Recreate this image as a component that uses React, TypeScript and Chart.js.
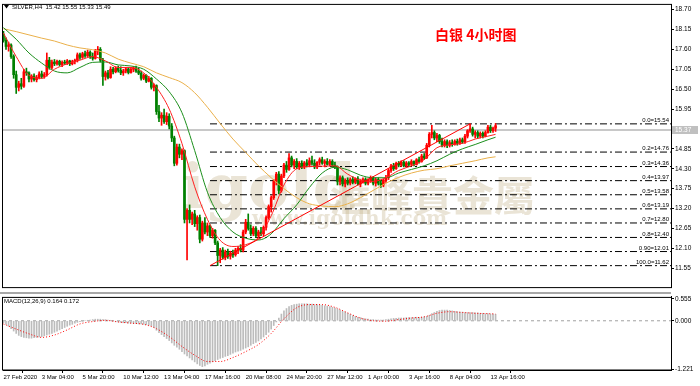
import React, { useEffect, useRef } from "react";
import { Chart, registerables } from "chart.js";
Chart.register(...registerables);

// ---------- DATA ----------
const OPEN = [
  18.02, 17.85, 17.68, 17.72, 17.40, 16.90, 16.55, 16.65, 16.58, 16.98,
  16.95, 16.78, 16.86, 16.76, 16.82, 16.92, 16.85, 16.90, 17.30, 17.10,
  17.25, 17.20, 17.27, 17.18, 17.24, 17.22, 17.28, 17.20, 17.26, 17.30,
  17.45, 17.38, 17.48, 17.42, 17.52, 17.40, 17.35, 17.55, 17.60, 17.30,
  16.85, 16.95, 16.82, 17.05, 16.98, 17.08, 17.02, 16.95, 17.00, 17.06,
  16.96, 17.05, 17.08, 17.00, 16.94, 16.80, 16.88, 16.72, 16.80, 16.55,
  16.60, 15.88, 15.70, 15.78, 15.60, 15.75, 15.48, 15.15, 14.45, 14.90,
  14.70, 14.80, 12.90, 13.15, 12.90, 13.05, 12.78, 12.95, 12.35, 12.80,
  12.55, 12.72, 12.45, 12.60, 12.25, 11.90, 12.05, 11.85, 12.00, 11.88,
  11.97, 11.92, 12.05, 12.10, 12.05, 12.55, 12.82, 12.65, 12.50, 12.65,
  12.45, 12.55, 12.50, 12.68, 12.95, 13.25, 13.50, 13.95, 14.15, 13.70,
  14.10, 14.40, 14.28, 14.60, 14.40, 14.50, 14.35, 14.45, 14.35, 14.46,
  14.40, 14.52, 14.45, 14.35, 14.48, 14.55, 14.45, 14.50, 14.42, 14.50,
  14.40, 14.35, 13.95, 14.05, 13.88, 13.98, 13.90, 14.00, 13.92, 14.02,
  13.88, 13.95, 14.00, 13.90, 13.98, 14.05, 13.90, 14.00, 13.90, 13.85,
  13.98, 14.05, 14.25, 14.38, 14.30, 14.45, 14.40, 14.48, 14.38, 14.46,
  14.42, 14.50, 14.42, 14.55, 14.50, 14.65, 14.60, 14.95, 15.25, 15.30,
  15.15, 15.22, 15.05, 14.95, 15.05, 14.95, 15.02, 14.98, 15.06, 15.00,
  15.10, 15.04, 15.20, 15.35, 15.40, 15.25, 15.30, 15.20, 15.28, 15.20,
  15.30, 15.45, 15.35, 15.42,
];
const HIGH = [
  18.10, 17.92, 17.80, 17.75, 17.45, 17.00, 16.72, 16.80, 17.05, 17.08,
  16.98, 16.90, 16.92, 16.88, 16.98, 17.00, 16.96, 17.50, 17.38, 17.30,
  17.32, 17.30, 17.30, 17.28, 17.30, 17.32, 17.30, 17.30, 17.33, 17.50,
  17.50, 17.52, 17.55, 17.58, 17.56, 17.50, 17.60, 17.68, 17.65, 17.35,
  17.00, 17.02, 17.12, 17.10, 17.12, 17.14, 17.12, 17.05, 17.10, 17.10,
  17.10, 17.12, 17.14, 17.08, 17.00, 16.92, 16.90, 16.85, 16.82, 16.65,
  16.62, 16.05, 15.85, 15.95, 15.85, 15.82, 15.55, 15.20, 14.98, 14.98,
  14.85, 14.82, 13.20, 13.30, 13.10, 13.15, 13.00, 13.02, 12.85, 12.95,
  12.80, 12.75, 12.65, 12.62, 12.30, 12.10, 12.12, 12.05, 12.08, 12.02,
  12.05, 12.10, 12.15, 12.20, 12.60, 12.90, 13.05, 12.75, 12.70, 12.70,
  12.60, 12.68, 12.72, 13.00, 13.30, 13.55, 14.00, 14.20, 14.22, 14.15,
  14.45, 14.50, 14.72, 14.65, 14.55, 14.58, 14.50, 14.52, 14.50, 14.55,
  14.60, 14.65, 14.55, 14.50, 14.60, 14.62, 14.55, 14.58, 14.55, 14.55,
  14.48, 14.38, 14.10, 14.10, 14.02, 14.05, 14.05, 14.08, 14.05, 14.08,
  14.00, 14.05, 14.05, 14.02, 14.10, 14.08, 14.05, 14.05, 13.98, 14.02,
  14.12, 14.30, 14.42, 14.45, 14.48, 14.50, 14.52, 14.52, 14.50, 14.50,
  14.55, 14.52, 14.58, 14.62, 14.70, 14.72, 15.00, 15.30, 15.50, 15.35,
  15.28, 15.25, 15.15, 15.10, 15.10, 15.08, 15.10, 15.10, 15.12, 15.15,
  15.15, 15.25, 15.38, 15.54, 15.45, 15.35, 15.35, 15.32, 15.32, 15.35,
  15.50, 15.50, 15.45, 15.55,
];
const LOW = [
  17.80, 17.60, 17.55, 17.35, 16.80, 16.38, 16.45, 16.50, 16.55, 16.88,
  16.70, 16.70, 16.72, 16.70, 16.78, 16.80, 16.80, 16.86, 17.05, 17.05,
  17.15, 17.16, 17.14, 17.12, 17.18, 17.18, 17.15, 17.17, 17.20, 17.25,
  17.32, 17.35, 17.38, 17.40, 17.35, 17.30, 17.33, 17.45, 17.25, 16.60,
  16.75, 16.78, 16.80, 16.92, 16.95, 16.97, 16.90, 16.88, 16.95, 16.92,
  16.94, 16.98, 16.96, 16.90, 16.75, 16.76, 16.68, 16.70, 16.50, 16.45,
  15.80, 15.60, 15.50, 15.55, 15.52, 15.40, 15.05, 14.38, 14.40, 14.60,
  14.55, 12.80, 11.78, 12.80, 12.75, 12.70, 12.60, 12.25, 12.30, 12.50,
  12.45, 12.40, 12.38, 12.20, 11.62, 11.70, 11.80, 11.78, 11.82, 11.80,
  11.85, 11.88, 11.95, 12.00, 12.00, 12.50, 12.60, 12.45, 12.45, 12.40,
  12.38, 12.45, 12.45, 12.60, 12.90, 13.10, 13.45, 13.85, 13.60, 13.65,
  14.05, 14.20, 14.25, 14.35, 14.30, 14.30, 14.28, 14.30, 14.30, 14.35,
  14.35, 14.40, 14.30, 14.30, 14.40, 14.42, 14.35, 14.40, 14.38, 14.35,
  14.30, 13.85, 13.85, 13.82, 13.80, 13.85, 13.85, 13.88, 13.88, 13.85,
  13.80, 13.90, 13.85, 13.85, 13.92, 13.85, 13.82, 13.85, 13.78, 13.80,
  13.92, 14.00, 14.20, 14.25, 14.28, 14.35, 14.36, 14.35, 14.35, 14.36,
  14.38, 14.38, 14.40, 14.45, 14.48, 14.55, 14.58, 14.90, 15.15, 15.10,
  15.05, 15.00, 14.90, 14.90, 14.88, 14.90, 14.92, 14.95, 14.95, 14.97,
  15.00, 15.00, 15.15, 15.30, 15.20, 15.15, 15.15, 15.15, 15.15, 15.18,
  15.28, 15.30, 15.30, 15.33,
];
const CLOSE = [
  17.85, 17.68, 17.72, 17.40, 16.90, 16.55, 16.65, 16.58, 16.98, 16.95,
  16.78, 16.86, 16.76, 16.82, 16.92, 16.85, 16.90, 17.30, 17.10, 17.25,
  17.20, 17.27, 17.18, 17.24, 17.22, 17.28, 17.20, 17.26, 17.30, 17.45,
  17.38, 17.48, 17.42, 17.52, 17.40, 17.35, 17.55, 17.60, 17.30, 16.85,
  16.95, 16.82, 17.05, 16.98, 17.08, 17.02, 16.95, 17.00, 17.06, 16.96,
  17.05, 17.08, 17.00, 16.94, 16.80, 16.88, 16.72, 16.80, 16.55, 16.60,
  15.88, 15.70, 15.78, 15.60, 15.75, 15.48, 15.15, 14.45, 14.90, 14.70,
  14.80, 12.90, 13.15, 12.90, 13.05, 12.78, 12.95, 12.35, 12.80, 12.55,
  12.72, 12.45, 12.60, 12.25, 11.90, 12.05, 11.85, 12.00, 11.88, 11.97,
  11.92, 12.05, 12.10, 12.05, 12.55, 12.82, 12.65, 12.50, 12.65, 12.45,
  12.55, 12.50, 12.68, 12.95, 13.25, 13.50, 13.95, 14.15, 13.70, 14.10,
  14.40, 14.28, 14.60, 14.40, 14.50, 14.35, 14.45, 14.35, 14.46, 14.40,
  14.52, 14.45, 14.35, 14.48, 14.55, 14.45, 14.50, 14.42, 14.50, 14.40,
  14.35, 13.95, 14.05, 13.88, 13.98, 13.90, 14.00, 13.92, 14.02, 13.88,
  13.95, 14.00, 13.90, 13.98, 14.05, 13.90, 14.00, 13.90, 13.85, 13.98,
  14.05, 14.25, 14.38, 14.30, 14.45, 14.40, 14.48, 14.38, 14.46, 14.42,
  14.50, 14.42, 14.55, 14.50, 14.65, 14.60, 14.95, 15.25, 15.30, 15.15,
  15.22, 15.05, 14.95, 15.05, 14.95, 15.02, 14.98, 15.06, 15.00, 15.10,
  15.04, 15.20, 15.35, 15.40, 15.25, 15.30, 15.20, 15.28, 15.20, 15.30,
  15.45, 15.35, 15.42, 15.49,
];

// moving averages, read at these bar indices
const MA_BARS = [0, 5, 10, 15, 20, 25, 30, 35, 40, 45, 50, 55, 60, 65, 70, 75, 80, 85, 90, 95,
  100, 105, 110, 115, 120, 125, 130, 135, 140, 145, 150, 155, 160, 165, 170, 175, 180, 185, 190, 193];
const MA_RED = [18.05, 17.40, 16.88, 16.80, 17.05, 17.20, 17.30, 17.40, 17.28, 17.10, 17.10, 16.95, 16.55, 15.95,
  15.00, 13.80, 12.90, 12.32, 12.15, 12.20, 12.40, 13.00, 13.85, 14.30, 14.36, 14.37, 14.38, 14.15, 13.98, 13.95,
  14.05, 14.25, 14.38, 14.55, 14.88, 14.96, 15.00, 15.12, 15.20, 15.25];
const MA_GREEN = [18.20, 17.88, 17.50, 17.22, 17.00, 16.95, 17.10, 17.24, 17.25, 17.17, 17.14, 17.05, 16.78, 16.43,
  15.85, 14.80, 13.65, 12.95, 12.55, 12.38, 12.33, 12.50, 12.92, 13.30, 13.78, 14.18, 14.34, 14.27, 14.12, 14.05,
  14.05, 14.18, 14.28, 14.38, 14.52, 14.70, 14.85, 14.97, 15.10, 15.17];
const MA_ORANGE = [18.17, 18.09, 18.00, 17.91, 17.83, 17.72, 17.64, 17.59, 17.50, 17.33, 17.22, 17.12, 16.95, 16.82,
  16.68, 16.40, 16.00, 15.55, 15.12, 14.75, 14.38, 14.05, 13.75, 13.50, 13.33, 13.27, 13.25, 13.33, 13.50, 13.70,
  13.90, 14.06, 14.18, 14.26, 14.30, 14.38, 14.45, 14.52, 14.60, 14.63];
const MACD_SIGNAL = [-0.08, -0.21, -0.33, -0.42, -0.36, -0.23, -0.08, -0.02, 0.01, -0.03, -0.06, -0.09, -0.20, -0.40,
  -0.65, -0.87, -1.03, -1.03, -0.93, -0.78, -0.60, -0.32, 0.05, 0.33, 0.41, 0.41, 0.34, 0.20, 0.07, 0.00,
  -0.01, 0.03, 0.07, 0.10, 0.19, 0.23, 0.21, 0.19, 0.18, 0.172];

const MACD_HIST = [
  -0.05, -0.09, -0.14, -0.20, -0.26, -0.32, -0.37, -0.40, -0.42, -0.43,
  -0.44, -0.44, -0.43, -0.42, -0.41, -0.40, -0.38, -0.36, -0.34, -0.32,
  -0.29, -0.26, -0.23, -0.20, -0.17, -0.14, -0.11, -0.09, -0.06, -0.04,
  -0.02, -0.01, 0.00, 0.01, 0.02, 0.03, 0.04, 0.04, 0.04, 0.03,
  0.03, 0.02, 0.01, 0.00, -0.02, -0.03, -0.04, -0.05, -0.05, -0.06,
  -0.06, -0.07, -0.07, -0.08, -0.08, -0.09, -0.10, -0.11, -0.13, -0.17,
  -0.24, -0.30, -0.35, -0.40, -0.45, -0.50, -0.56, -0.62, -0.67, -0.72,
  -0.78, -0.84, -0.89, -0.94, -0.99, -1.04, -1.09, -1.13, -1.16, -1.14,
  -1.10, -1.07, -1.04, -1.01, -0.98, -0.95, -0.93, -0.90, -0.88, -0.85,
  -0.82, -0.79, -0.77, -0.75, -0.72, -0.69, -0.66, -0.62, -0.58, -0.55,
  -0.51, -0.46, -0.41, -0.35, -0.29, -0.21, -0.12, -0.03, 0.07, 0.17,
  0.25, 0.31, 0.36, 0.39, 0.41, 0.42, 0.43, 0.43, 0.43, 0.43,
  0.42, 0.42, 0.41, 0.41, 0.40, 0.39, 0.38, 0.37, 0.36, 0.34,
  0.32, 0.30, 0.27, 0.24, 0.22, 0.19, 0.16, 0.13, 0.11, 0.09,
  0.08, 0.06, 0.05, 0.04, 0.03, 0.03, 0.02, 0.02, 0.02, 0.02,
  0.03, 0.04, 0.05, 0.06, 0.06, 0.07, 0.07, 0.07, 0.08, 0.08,
  0.08, 0.08, 0.09, 0.09, 0.09, 0.10, 0.11, 0.14, 0.18, 0.21,
  0.24, 0.26, 0.27, 0.27, 0.27, 0.26, 0.25, 0.24, 0.23, 0.22,
  0.22, 0.21, 0.21, 0.21, 0.21, 0.20, 0.20, 0.19, 0.19, 0.18,
  0.18, 0.17, 0.17, 0.164,
];

const FIB_LABELS = ["0.0", "0.2", "0.3", "0.4", "0.5", "0.6", "0.7", "0.8", "0.90", "100.0"];
const FIB_PRICES = [15.54, 14.76, 14.36, 13.97, 13.58, 13.19, 12.80, 12.40, 12.01, 11.62];
const FIB_LOW_BAR = 81;
const FIB_HIGH_BAR = 183;
const CURRENT_PRICE = 15.37;

const PRICE_TICKS = [18.70, 18.15, 17.60, 17.05, 16.50, 15.95, 14.85, 14.30, 13.75, 13.20, 12.65, 12.10, 11.55];
const MACD_TICKS = [0.555, 0.0, -1.221];
const X_TICK_BARS = [0, 15, 31, 47, 63, 79, 95, 111, 127, 143, 159, 175, 191];
const X_TICK_LABELS = ["27 Feb 2020", "3 Mar 04:00", "5 Mar 20:00", "10 Mar 12:00", "13 Mar 04:00", "17 Mar 16:00",
  "20 Mar 08:00", "24 Mar 20:00", "27 Mar 12:00", "1 Apr 00:00", "3 Apr 16:00", "8 Apr 04:00", "13 Apr 16:00"];

const SYMBOL = "SILVER,H4";
const TITLE = "白银 4小时图";

// ---------- styling / layout ----------
const X_MIN = -0.18;
const X_MAX = 261.8;
const Y_MIN = 11.027;
const Y_MAX = 18.829;
const M_MIN = -1.245;
const M_MAX = 0.604;
const UP = "#ff0000";
const DOWN = "#008000";
const FONT = "'Liberation Sans', Arial, sans-serif";

export default function App() {
  const mainRef = useRef<HTMLCanvasElement>(null);
  const macdRef = useRef<HTMLCanvasElement>(null);

  useEffect(() => {
    const idx = CLOSE.map((_, i) => i);
    const colors = idx.map((i) => (CLOSE[i] >= OPEN[i] ? UP : DOWN));
    const last = CLOSE.length - 1;

    const maLine = (vals: number[], color: string, order: number) => ({
      type: "line" as const,
      data: MA_BARS.map((b, k) => ({ x: b, y: vals[k] })),
      borderColor: color,
      borderWidth: 1,
      pointRadius: 0,
      cubicInterpolationMode: "monotone" as const,
      fill: false,
      order,
    });

    const fibSets = FIB_PRICES.map((p) => ({
      type: "line" as const,
      data: [{ x: FIB_LOW_BAR, y: p }, { x: X_MAX, y: p }],
      borderColor: "#000000",
      borderWidth: 1,
      borderDash: [7, 3, 2, 3],
      pointRadius: 0,
      fill: false,
      order: 15,
    }));

    const mainOverlay = {
      id: "mainOverlay",
      beforeDatasetsDraw(chart: any) {
        const ctx = chart.ctx;
        ctx.save();
        ctx.fillStyle = "rgba(190,172,128,0.32)";
        ctx.textBaseline = "alphabetic";
        ctx.textAlign = "left";
        ctx.font = "bold 62px 'DejaVu Serif', serif";
        ctx.fillText("igold", 181, 208);
        ctx.font = "bold 41px 'Noto Sans CJK TC', sans-serif";
        ctx.fillText("滙峰貴金屬", 330, 211);
        ctx.font = "bold 20px 'DejaVu Serif', serif";
        ctx.fillText("www.igoldhk.com", 252, 225);
        ctx.restore();
      },
      afterDraw(chart: any) {
        const ctx = chart.ctx;
        const a = chart.chartArea;
        const ys = chart.scales.y;
        const xs = chart.scales.x;
        ctx.save();
        // frame
        ctx.strokeStyle = "#000";
        ctx.lineWidth = 1;
        ctx.strokeRect(a.left - 0.5, a.top - 0.5, a.right - a.left + 1, a.bottom - a.top + 1);
        // header
        ctx.fillStyle = "#000";
        ctx.beginPath();
        ctx.moveTo(4, 5);
        ctx.lineTo(9, 5);
        ctx.lineTo(6.5, 8.5);
        ctx.closePath();
        ctx.fill();
        ctx.font = `6px ${FONT}`;
        ctx.textBaseline = "middle";
        ctx.textAlign = "left";
        ctx.fillText(
          `${SYMBOL}  ${OPEN[last].toFixed(2)} ${HIGH[last].toFixed(2)} ${LOW[last].toFixed(2)} ${CLOSE[last].toFixed(2)}`,
          12,
          7
        );
        // title
        ctx.fillStyle = "#ff0000";
        ctx.font = "bold 14px 'Noto Sans CJK SC', sans-serif";
        ctx.fillText(TITLE, 435, 35);
        // fib labels
        ctx.fillStyle = "#000";
        ctx.font = `6px ${FONT}`;
        ctx.textAlign = "right";
        ctx.textBaseline = "bottom";
        FIB_PRICES.forEach((p, k) => {
          const y = ys.getPixelForValue(p);
          ctx.fillText(`${FIB_LABELS[k]}=${p.toFixed(2)}`, xs.getPixelForValue(X_MAX) - 2, y - 0.5);
        });
        // current price box
        const cy = ys.getPixelForValue(CURRENT_PRICE);
        ctx.fillStyle = "#c0c0c0";
        ctx.fillRect(a.right + 1, cy - 4, 26, 8);
        ctx.fillStyle = "#ffffff";
        ctx.textAlign = "left";
        ctx.textBaseline = "middle";
        ctx.font = `6.5px ${FONT}`;
        ctx.fillText(CURRENT_PRICE.toFixed(2), a.right + 4, cy);
        ctx.restore();
      },
    };

    const main = new Chart(mainRef.current!, {
      type: "bar",
      data: {
        datasets: [
          {
            type: "line",
            data: [{ x: X_MIN, y: CURRENT_PRICE }, { x: X_MAX, y: CURRENT_PRICE }],
            borderColor: "#c8c8c8",
            borderWidth: 2,
            pointRadius: 0,
            order: 20,
          } as any,
          ...fibSets,
          {
            type: "bar",
            data: idx.map((i) => ({ x: i, y: [LOW[i], HIGH[i]] })),
            backgroundColor: colors,
            barThickness: 1,
            grouped: false,
            borderWidth: 0,
            order: 10,
          } as any,
          {
            type: "bar",
            data: idx.map((i) => ({ x: i, y: [OPEN[i], CLOSE[i]] })),
            backgroundColor: colors,
            barThickness: 2,
            minBarLength: 1,
            grouped: false,
            borderWidth: 0,
            order: 9,
          } as any,
          maLine(MA_ORANGE, "#eab04a", 5),
          maLine(MA_GREEN, "#1c8f1c", 4),
          maLine(MA_RED, "#ff2020", 3),
          {
            type: "line",
            data: [{ x: FIB_LOW_BAR, y: FIB_PRICES[FIB_PRICES.length - 1] }, { x: FIB_HIGH_BAR, y: FIB_PRICES[0] }],
            borderColor: "#ff0000",
            borderWidth: 1,
            pointRadius: 0,
            order: 2,
          } as any,
        ],
      },
      options: {
        animation: false,
        responsive: false,
        devicePixelRatio: 1,
        events: [],
        layout: { padding: { left: 3, top: 1, bottom: 1, right: 0 } },
        plugins: { legend: { display: false }, tooltip: { enabled: false } },
        scales: {
          x: { type: "linear", min: X_MIN, max: X_MAX, offset: false, display: false, bounds: "data" },
          y: {
            type: "linear",
            position: "right",
            min: Y_MIN,
            max: Y_MAX,
            bounds: "data",
            grid: { drawOnChartArea: false, drawTicks: true, tickLength: 3, color: "#000" },
            border: { display: true, color: "#000" },
            ticks: {
              font: { family: FONT, size: 6.5 },
              color: "#000",
              padding: 1,
              autoSkip: false,
              callback: (v: any) => Number(v).toFixed(2),
            },
            afterBuildTicks: (ax: any) => {
              ax.ticks = PRICE_TICKS.map((v) => ({ value: v }));
            },
            afterFit: (ax: any) => {
              ax.width = 29;
            },
          },
        },
      } as any,
      plugins: [mainOverlay],
    });

    const macdOverlay = {
      id: "macdOverlay",
      afterDraw(chart: any) {
        const ctx = chart.ctx;
        const a = chart.chartArea;
        ctx.save();
        ctx.fillStyle = "#a8a8a8";
        ctx.fillRect(0, 0, a.right, 2);
        ctx.strokeStyle = "#000";
        ctx.lineWidth = 1;
        ctx.strokeRect(a.left - 0.5, a.top + 0.5, a.right - a.left + 1, a.bottom - a.top - 0.5);
        ctx.fillStyle = "#000";
        ctx.font = `6px ${FONT}`;
        ctx.textAlign = "left";
        ctx.textBaseline = "middle";
        ctx.fillText(
          `MACD(12,26,9) ${MACD_HIST[last].toFixed(3)} ${MACD_SIGNAL[MACD_SIGNAL.length - 1].toFixed(3)}`,
          4,
          9
        );
        ctx.restore();
      },
    };

    const macd = new Chart(macdRef.current!, {
      type: "bar",
      data: {
        datasets: [
          {
            type: "line",
            data: [{ x: X_MIN, y: 0 }, { x: X_MAX, y: 0 }],
            borderColor: "#a0a0a0",
            borderWidth: 1,
            borderDash: [3, 3],
            pointRadius: 0,
            order: 10,
          } as any,
          {
            type: "bar",
            data: idx.map((i) => ({ x: i, y: MACD_HIST[i] })),
            backgroundColor: "#bcbcbc",
            barThickness: 1,
            grouped: false,
            borderWidth: 0,
            order: 5,
          } as any,
          {
            type: "line",
            data: MA_BARS.map((b, k) => ({ x: b, y: MACD_SIGNAL[k] })),
            borderColor: "#ff0000",
            borderWidth: 1,
            borderDash: [1, 2],
            pointRadius: 0,
            cubicInterpolationMode: "monotone",
            order: 1,
          } as any,
        ],
      },
      options: {
        animation: false,
        responsive: false,
        devicePixelRatio: 1,
        events: [],
        layout: { padding: { left: 3, top: 2, bottom: 0, right: 0 } },
        plugins: { legend: { display: false }, tooltip: { enabled: false } },
        scales: {
          x: {
            type: "linear",
            min: X_MIN,
            max: X_MAX,
            offset: false,
            bounds: "data",
            position: "bottom",
            grid: { drawOnChartArea: false, drawTicks: true, tickLength: 3, color: "#000" },
            border: { display: true, color: "#000" },
            ticks: {
              align: "start",
              maxRotation: 0,
              autoSkip: false,
              font: { family: FONT, size: 6 },
              color: "#000",
              padding: 1,
              callback: (_v: any, i: number) => X_TICK_LABELS[i],
            },
            afterBuildTicks: (ax: any) => {
              ax.ticks = X_TICK_BARS.map((v) => ({ value: v }));
            },
            afterFit: (ax: any) => {
              ax.height = 16;
            },
          },
          y: {
            type: "linear",
            position: "right",
            min: M_MIN,
            max: M_MAX,
            bounds: "data",
            grid: { drawOnChartArea: false, drawTicks: true, tickLength: 3, color: "#000" },
            border: { display: true, color: "#000" },
            ticks: {
              font: { family: FONT, size: 6.5 },
              color: "#000",
              padding: 1,
              autoSkip: false,
              callback: (v: any) => Number(v).toFixed(3),
            },
            afterBuildTicks: (ax: any) => {
              ax.ticks = MACD_TICKS.map((v) => ({ value: v }));
            },
            afterFit: (ax: any) => {
              ax.width = 29;
            },
          },
        },
      } as any,
      plugins: [macdOverlay],
    });

    return () => {
      main.destroy();
      macd.destroy();
    };
  }, []);

  return (
    <div style={{ position: "fixed", left: 0, top: 0, width: 700, height: 386, background: "#ffffff", overflow: "hidden" }}>
      <canvas ref={mainRef} width={700} height={292} style={{ position: "absolute", left: 0, top: 0, width: 700, height: 292 }} />
      <canvas ref={macdRef} width={700} height={94} style={{ position: "absolute", left: 0, top: 292, width: 700, height: 94 }} />
    </div>
  );
}
